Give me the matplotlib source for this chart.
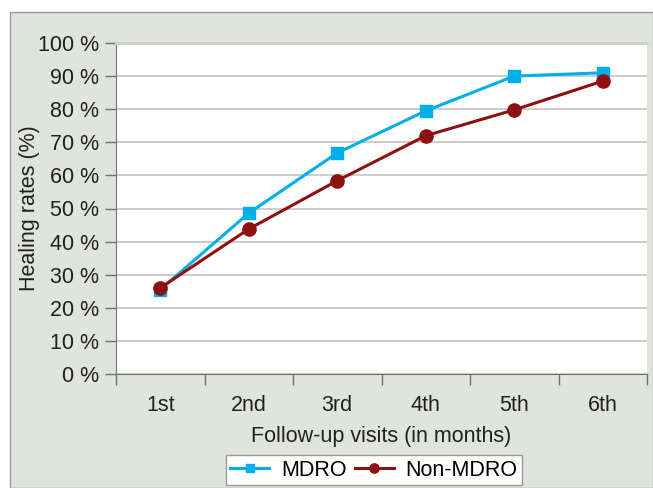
import matplotlib
matplotlib.use("Agg")
import matplotlib.pyplot as plt
from matplotlib.patches import Rectangle

# data
visits = ["1st", "2nd", "3rd", "4th", "5th", "6th"]
mdro = [25.5, 48.6, 66.8, 79.5, 90.0, 91.0]
non_mdro = [26.0, 43.8, 58.4, 72.0, 79.8, 88.5]

plt.rcParams['font.family'] = ['Liberation Sans', 'DejaVu Sans']
FS = 15.5

W, H = 653, 488
fig = plt.figure(figsize=(W / 100, H / 100), dpi=100)
fig.patch.set_facecolor("white")

# grey-green panel behind the chart
bg = Rectangle((10 / W, 0), 1 - 10 / W, 1 - 12 / H, transform=fig.transFigure,
               facecolor="#dfe5da", edgecolor="#9a9a9a", linewidth=1.0, zorder=-10)
fig.patches.append(bg)

ax = fig.add_axes([116 / W, 1 - 374 / H, (647 - 116) / W, (374 - 43) / H])
ax.set_facecolor("white")

x = range(len(visits))
ax.plot(x, mdro, color="#00aee8", lw=2.2, marker="s", ms=8, label="MDRO", zorder=3)
ax.plot(x, non_mdro, color="#8e1010", lw=2.2, marker="o", ms=9.5, label="Non-MDRO", zorder=4)

ax.set_xlim(-0.5, len(visits) - 0.5)
ax.set_ylim(0, 100)
ax.set_yticks(range(0, 101, 10))
ax.set_yticklabels(["%d %%" % v for v in range(0, 101, 10)])
ax.yaxis.grid(True, color="#c4c4c4", lw=1.2)
ax.set_axisbelow(True)

ax.set_xticks([i + 0.5 for i in range(-1, len(visits))])
ax.set_xticklabels([])
ax.set_xticks(list(x), minor=True)
ax.set_xticklabels(visits, minor=True)
ax.tick_params(axis="x", which="minor", length=0, pad=15, labelsize=FS, colors="#231f20")
ax.tick_params(axis="x", which="major", length=8, width=1, color="#707070")
ax.tick_params(axis="y", length=8, width=1, color="#707070", labelsize=FS,
               labelcolor="#231f20", pad=4)

ax.spines["right"].set_visible(False)
ax.spines["top"].set_color("#cfcfcf")
ax.spines["top"].set_linewidth(2)
ax.spines["left"].set_color("#707070")
ax.spines["bottom"].set_color("#707070")

ax.set_ylabel("Healing rates (%)", fontsize=FS, color="#231f20", labelpad=-1)
ax.set_xlabel("Follow-up visits (in months)", fontsize=FS, color="#231f20", labelpad=7)

leg = fig.legend(loc="center", bbox_to_anchor=(374 / W, 1 - 470 / H), ncol=2,
                 fontsize=FS, frameon=True, fancybox=False, edgecolor="#9a9a9a",
                 framealpha=1, handlelength=1.8, columnspacing=0.4, handletextpad=0.55,
                 borderpad=0.2, borderaxespad=0, markerscale=0.7)
leg.get_frame().set_linewidth(1)

fig.savefig("out.png", dpi=100)
